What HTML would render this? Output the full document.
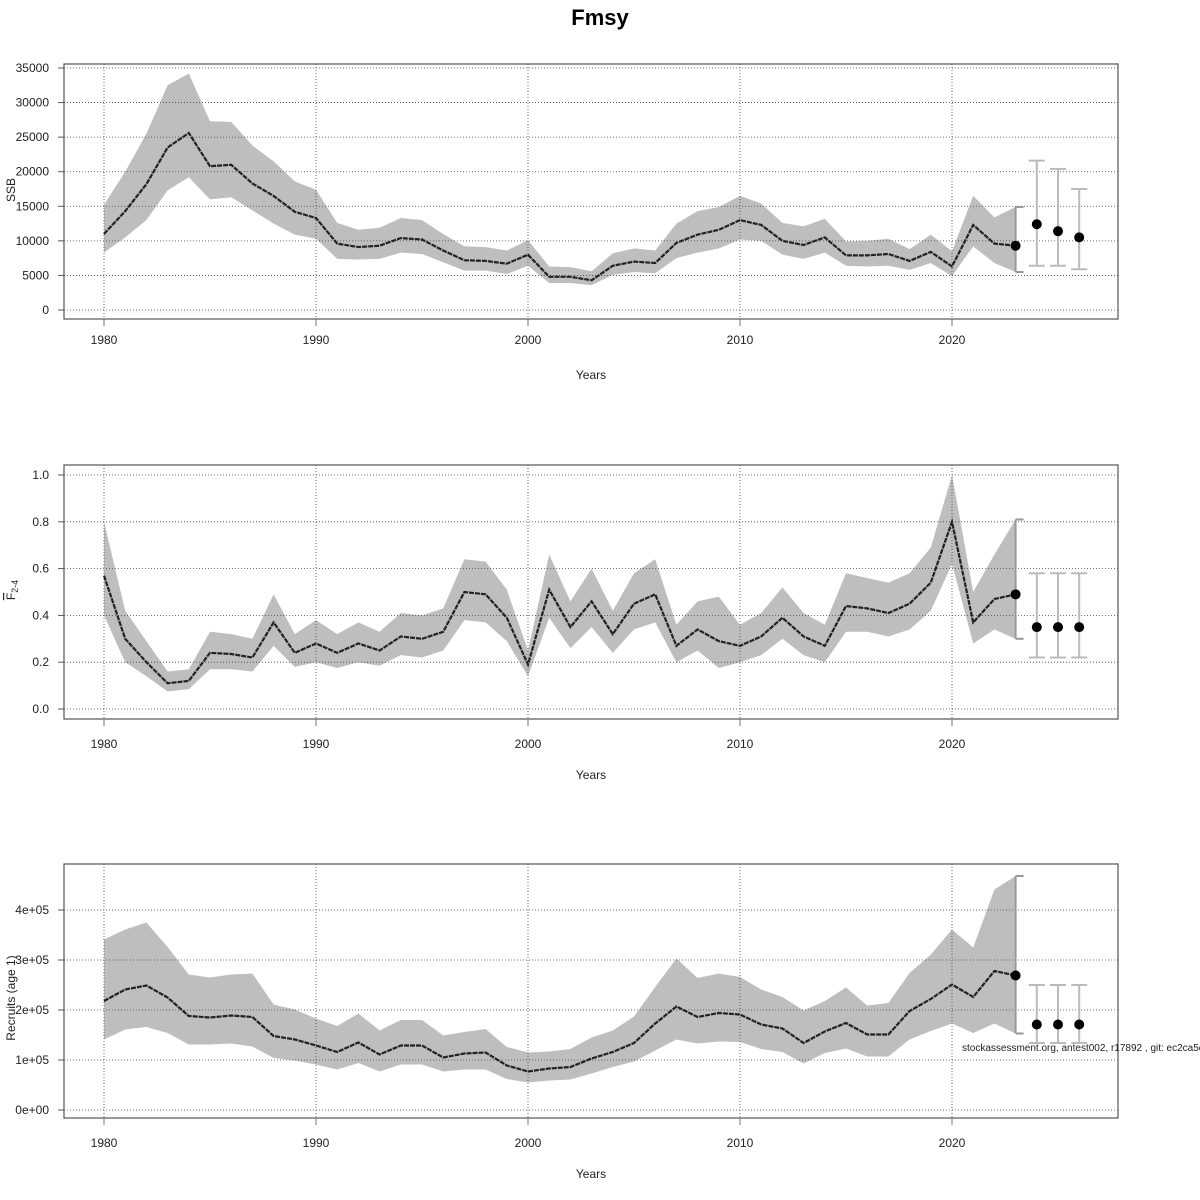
<!DOCTYPE html>
<html><head><meta charset="utf-8"><style>
body{margin:0;background:#fff;}
svg{display:block;font-family:"Liberation Sans",sans-serif;}
</style></head><body>
<svg id="chart" width="1200" height="1200" viewBox="0 0 1200 1200" xmlns="http://www.w3.org/2000/svg">
<text x="600" y="25" text-anchor="middle" font-size="22" font-weight="bold">Fmsy</text>
</svg>
<script>
const years = [];
for (let y = 1980; y <= 2023; y++) years.push(y);
const fcYears = [2024, 2025, 2026];

const ssbEst = [11000,14300,18200,23500,25600,20800,21000,18300,16500,14200,13300,9600,9100,9300,10400,10200,8600,7200,7100,6700,8000,4800,4800,4300,6400,7000,6800,9700,10900,11600,13000,12300,10000,9400,10500,7900,7900,8100,7100,8400,6300,12300,9600,9300];
const ssbLow = [8300,10500,13000,17300,19200,16000,16300,14400,12500,10900,10300,7400,7300,7400,8300,8100,6900,5700,5700,5200,6400,3900,3900,3600,5100,5500,5300,7500,8300,8900,10200,10000,8000,7400,8300,6400,6300,6400,5800,6800,4900,9200,6800,5500];
const ssbHigh = [15200,20000,25500,32500,34200,27300,27200,23800,21500,18600,17400,12600,11600,11900,13300,13000,11000,9200,9100,8600,10100,6300,6200,5600,8200,8900,8600,12500,14300,14900,16500,15400,12600,12100,13200,9900,10000,10300,8800,10900,8500,16500,13400,14900];
const ssbFc = [12400,11400,10500];
const ssbFcLow = [6400,6400,5900];
const ssbFcHigh = [21600,20400,17500];
const ssbTicks = [0,5000,10000,15000,20000,25000,30000,35000];

const fEst = [0.57,0.30,0.20,0.11,0.12,0.24,0.235,0.22,0.37,0.24,0.28,0.24,0.28,0.25,0.31,0.30,0.33,0.50,0.49,0.39,0.19,0.51,0.35,0.46,0.32,0.45,0.49,0.27,0.34,0.29,0.27,0.31,0.39,0.31,0.27,0.44,0.43,0.41,0.45,0.54,0.80,0.37,0.47,0.49];
const fLow = [0.40,0.20,0.14,0.075,0.085,0.17,0.17,0.16,0.27,0.18,0.20,0.175,0.20,0.185,0.23,0.22,0.25,0.38,0.37,0.29,0.14,0.39,0.26,0.35,0.24,0.34,0.37,0.20,0.25,0.175,0.20,0.23,0.30,0.23,0.20,0.33,0.33,0.31,0.34,0.42,0.62,0.28,0.34,0.30];
const fHigh = [0.80,0.42,0.29,0.16,0.17,0.33,0.32,0.30,0.49,0.32,0.38,0.32,0.37,0.33,0.41,0.40,0.43,0.64,0.63,0.51,0.25,0.66,0.46,0.60,0.42,0.58,0.64,0.36,0.46,0.48,0.36,0.41,0.52,0.41,0.36,0.58,0.56,0.54,0.58,0.69,1.00,0.50,0.66,0.81];
const fFc = [0.35,0.35,0.35];
const fFcLow = [0.22,0.22,0.22];
const fFcHigh = [0.58,0.58,0.58];
const fTicks = [0.0,0.2,0.4,0.6,0.8,1.0];

const recEst = [2.18,2.41,2.49,2.25,1.88,1.85,1.89,1.86,1.48,1.41,1.29,1.16,1.35,1.11,1.29,1.29,1.05,1.13,1.15,0.89,0.77,0.83,0.86,1.03,1.16,1.34,1.73,2.07,1.86,1.94,1.91,1.71,1.63,1.34,1.57,1.74,1.51,1.51,1.98,2.22,2.51,2.26,2.78,2.69].map(v=>v*1e5);
const recLow = [1.41,1.61,1.66,1.54,1.31,1.31,1.33,1.27,1.04,0.99,0.91,0.81,0.94,0.77,0.91,0.91,0.77,0.81,0.81,0.62,0.55,0.59,0.61,0.73,0.86,0.97,1.19,1.41,1.33,1.37,1.36,1.22,1.16,0.93,1.14,1.23,1.07,1.07,1.41,1.58,1.73,1.54,1.73,1.53].map(v=>v*1e5);
const recHigh = [3.41,3.61,3.75,3.26,2.71,2.65,2.71,2.73,2.11,2.01,1.83,1.68,1.93,1.59,1.80,1.80,1.49,1.56,1.62,1.26,1.15,1.17,1.22,1.45,1.59,1.87,2.46,3.03,2.64,2.73,2.66,2.41,2.26,1.99,2.18,2.45,2.09,2.14,2.74,3.11,3.61,3.25,4.41,4.68].map(v=>v*1e5);
const recFc = [171000,171000,171000];
const recFcLow = [134000,134000,134000];
const recFcHigh = [250000,250000,250000];
const recTicks = [0,100000,200000,300000,400000];
const recTickLabels = ["0e+00","1e+05","2e+05","3e+05","4e+05"];
const xTicks = [1980,1990,2000,2010,2020];

const svg = document.getElementById('chart');
const NS = 'http://www.w3.org/2000/svg';
function mk(tag, attrs, parent){
  const e = document.createElementNS(NS, tag);
  for (const k in attrs) e.setAttribute(k, attrs[k]);
  (parent||svg).appendChild(e);
  return e;
}
const xScale = y => 104 + (y - 1980) * 21.2;
const L = 64, R = 1118;

function panel(name, top, bottom, y0px, yTopPx, yMax, est, lo, hi, fc, fcLo, fcHi, ticks, tickLabels, labOff){
  const g = mk('g', {});
  
  
  const ys = v => y0px - v / yMax * (y0px - yTopPx);
  let pts = years.map((y,i)=>xScale(y)+','+ys(hi[i]));
  pts = pts.concat(years.map((y,i)=>xScale(y)+','+ys(lo[i])).reverse());
  const band = mk('polygon', {points: pts.join(' '), fill: '#bebebe', stroke: 'none'}, g);
  
  
  ticks.forEach(t=>{
    const gl = mk('line', {x1:L, x2:R, y1:ys(t), y2:ys(t), stroke:'#444', 'stroke-width':0.8, 'stroke-dasharray':'1,2'}, g);
    
    
  });
  xTicks.forEach(t=>{
    const gl = mk('line', {x1:xScale(t), x2:xScale(t), y1:top, y2:bottom, stroke:'#444', 'stroke-width':0.8, 'stroke-dasharray':'1,2'}, g);
    
    
  });
  const line = mk('polyline', {points: years.map((y,i)=>xScale(y)+','+ys(est[i])).join(' '), fill:'none', stroke:'#222', 'stroke-width':2.2, 'stroke-dasharray':'5,1'}, g);
  
  
  const ly = years.length - 1;
  const lx = xScale(years[ly]);
  const eb = mk('g', {stroke:'#999', 'stroke-width':2}, g);
  
  
  mk('line', {x1:lx, x2:lx, y1:ys(lo[ly]), y2:ys(hi[ly])}, eb);
  mk('line', {x1:lx, x2:lx+8, y1:ys(lo[ly]), y2:ys(lo[ly])}, eb);
  mk('line', {x1:lx, x2:lx+8, y1:ys(hi[ly]), y2:ys(hi[ly])}, eb);
  const lp = mk('circle', {cx:lx, cy:ys(est[ly]), r:5, fill:'#000'}, g);
  
  
  fcYears.forEach((fy,i)=>{
    const x = xScale(fy);
    const b = mk('g', {stroke:'#bbb', 'stroke-width':2}, g);
    
    
    mk('line', {x1:x, x2:x, y1:ys(fcLo[i]), y2:ys(fcHi[i])}, b);
    mk('line', {x1:x-8, x2:x+8, y1:ys(fcLo[i]), y2:ys(fcLo[i])}, b);
    mk('line', {x1:x-8, x2:x+8, y1:ys(fcHi[i]), y2:ys(fcHi[i])}, b);
    const p = mk('circle', {cx:x, cy:ys(fc[i]), r:5, fill:'#000'}, g);
    
    
  });
  const box = mk('rect', {x:L, y:top, width:R-L, height:bottom-top, fill:'none', stroke:'#555', 'stroke-width':1.2}, g);
  
  
  ticks.forEach((t,i)=>{
    mk('line', {x1:L-6, x2:L, y1:ys(t), y2:ys(t), stroke:'#555'}, g);
    const tl = mk('text', {x:L-15, y:ys(t)+4, 'text-anchor':'end', 'font-size':12, fill:'#222'}, g);
    
    
    tl.textContent = tickLabels[i];
  });
  xTicks.forEach(t=>{
    mk('line', {x1:xScale(t), x2:xScale(t), y1:bottom, y2:bottom+7, stroke:'#777'}, g);
    const tl = mk('text', {x:xScale(t), y:bottom+labOff, 'text-anchor':'middle', 'font-size':12, fill:'#222'}, g);
    
    
    tl.textContent = t;
  });
  const xt = mk('text', {x:591, y:bottom+60, 'text-anchor':'middle', 'font-size':12, fill:'#222'}, g);
  
  
  xt.textContent = 'Years';
  return {g, ys};
}

panel('ssb', 64, 319, 310, 68, 35000, ssbEst, ssbLow, ssbHigh, ssbFc, ssbFcLow, ssbFcHigh, ssbTicks, ssbTicks.map(String), 25);
panel('f', 465, 719, 709, 475, 1.0, fEst, fLow, fHigh, fFc, fFcLow, fFcHigh, fTicks, fTicks.map(v=>v.toFixed(1)), 29);
panel('recruits', 864, 1118, 1110, 910, 400000, recEst, recLow, recHigh, recFc, recFcLow, recFcHigh, recTicks, recTickLabels, 29);

const t1 = mk('text', {x:0, y:0, transform:'translate(15,190) rotate(-90)', 'text-anchor':'middle', 'font-size':12, fill:'#222'});


t1.textContent = 'SSB';
const t2 = mk('text', {x:0, y:0, transform:'translate(15,590) rotate(-90)', 'text-anchor':'middle', 'font-size':12, fill:'#222'});


t2.innerHTML = '<tspan text-decoration="overline">F</tspan><tspan font-size="9" dy="3">2-4</tspan>';
const t3 = mk('text', {x:0, y:0, transform:'translate(15,998) rotate(-90)', 'text-anchor':'middle', 'font-size':12, fill:'#222'});


t3.textContent = 'Recruits (age 1)';
const foot = mk('text', {x:962, y:1051, 'font-size':10, fill:'#222'});


foot.textContent = 'stockassessment.org, antest002, r17892 , git: ec2ca5c';
</script>
</body></html>
